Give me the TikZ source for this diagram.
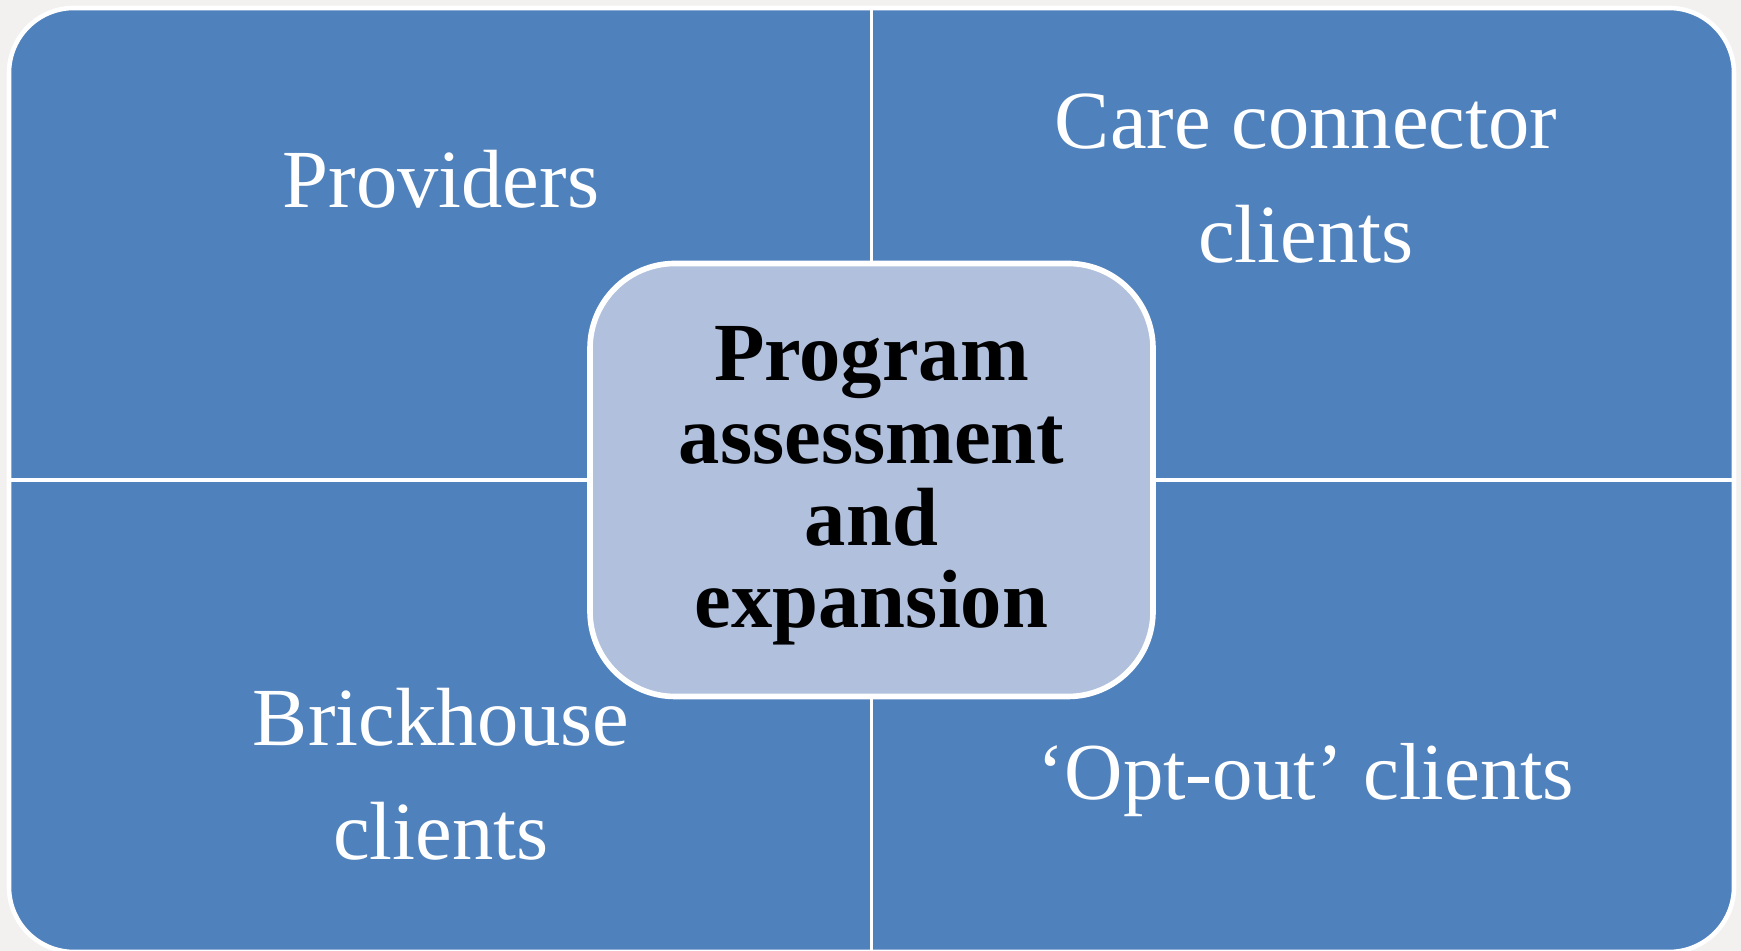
\documentclass[tikz,border=0pt]{standalone}
\usepackage{fontspec}
\setmainfont{Liberation Serif}
\usetikzlibrary{positioning}

\definecolor{quadblue}{HTML}{4F81BD}
\definecolor{hubblue}{HTML}{B0C0DD}
\definecolor{paper}{HTML}{F2F1EF}

\tikzset{
  panel/.style={draw=white,line width=1.3pt,fill=quadblue,rounded corners=0.65cm,
    inner sep=0pt,minimum width=17.25cm,minimum height=9.44cm},
  divider/.style={draw=white,line width=1.1pt},
  hub/.style={draw=white,line width=1.6pt,fill=hubblue,rounded corners=0.85cm,
    inner sep=0pt,minimum width=5.63cm,minimum height=4.33cm,align=center,
    font=\bfseries\fontsize{23.5}{23.4}\selectfont},
  quadlabel/.style={text=white,align=center,font=\fontsize{23.5}{32.4}\selectfont}
}

\begin{document}
\begin{tikzpicture}
  \useasboundingbox[fill=paper] (0,0) rectangle (17.41,9.51);

  \node[panel] (panel) at (8.715,4.71) {};

  % quadrant borders
  \draw[divider] (panel.north) -- (panel.south);
  \draw[divider] (panel.west) -- (panel.east);

  \node[quadlabel] (providers)  at (4.41,7.72) {Providers};
  \node[quadlabel] (careconn)   at (13.06,7.72) {Care connector\\clients};
  \node[quadlabel] (brickhouse) at (4.41,1.77) {Brickhouse\\clients};
  \node[quadlabel,font=\fontsize{23}{32.4}\selectfont] (optout) at (13.06,1.71) {`Opt-out' clients};

  \node[hub] (program) at (panel.center) {};
  \node[align=center,font=\bfseries\fontsize{23.5}{23.4}\selectfont]
    (hubtext) at ([yshift=-0.06cm]program.center) {Program\\assessment\\and\\expansion};
\end{tikzpicture}
\end{document}
